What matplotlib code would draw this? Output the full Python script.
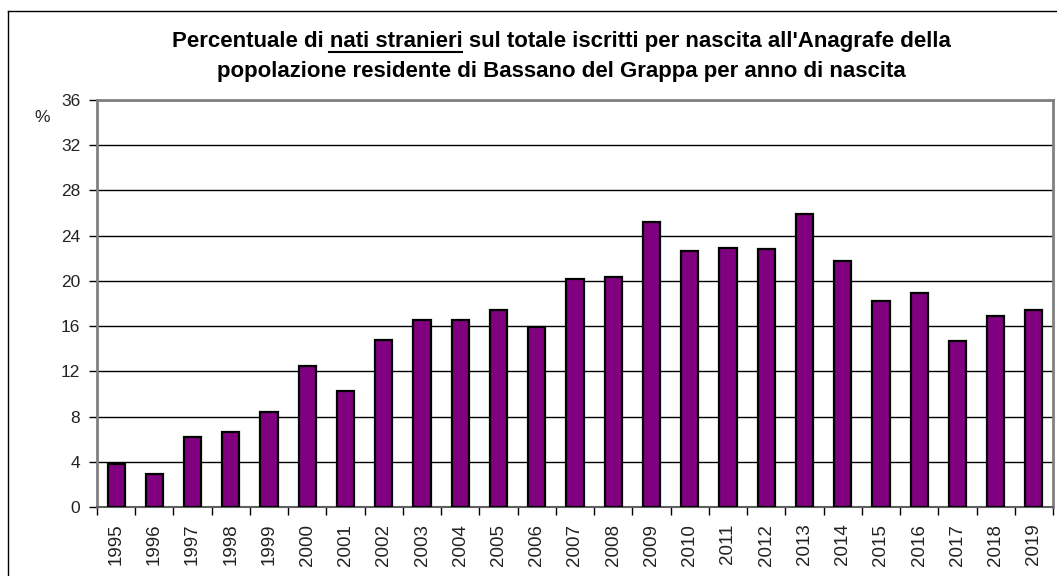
import matplotlib
matplotlib.use("Agg")
import matplotlib.pyplot as plt
from matplotlib.lines import Line2D
import numpy as np

plt.rcParams['font.family'] = ['Liberation Sans', 'DejaVu Sans']

# data
anni = ['1995', '1996', '1997', '1998', '1999', '2000', '2001', '2002', '2003',
        '2004', '2005', '2006', '2007', '2008', '2009', '2010', '2011', '2012',
        '2013', '2014', '2015', '2016', '2017', '2018', '2019']
perc_stranieri = [3.8, 2.9, 6.2, 6.6, 8.4, 12.5, 10.3, 14.8, 16.5,
                  16.5, 17.4, 15.9, 20.2, 20.3, 25.2, 22.6, 22.9, 22.8,
                  25.9, 21.8, 18.2, 18.9, 14.7, 16.9, 17.4]
yticks = [0, 4, 8, 12, 16, 20, 24, 28, 32, 36]

W, H = 1057, 576
TITLE_FS = 16
fig = plt.figure(figsize=(W / 100, H / 100), dpi=100)
ax = fig.add_axes([97 / W, 1 - 507 / H, (1053 - 97) / W, (507 - 100) / H])

x = np.arange(len(anni))
ax.bar(x, perc_stranieri, width=0.45, color='#800080', edgecolor='black',
       linewidth=1.6, zorder=3)

ax.set_xlim(-0.5, len(anni) - 0.5)
ax.set_ylim(0, 36)
ax.set_yticks(yticks)
ax.set_yticklabels([str(v) for v in yticks], fontsize=12.5, color='#222222')
ax.yaxis.grid(True, color='black', linewidth=1.0, zorder=0)
ax.set_axisbelow(True)

# category ticks between bars, labels in the middle
ax.set_xticks(np.arange(len(anni) + 1) - 0.5)
ax.set_xticklabels([])
ax.set_xticks(x, minor=True)
ax.set_xticklabels(anni, minor=True, rotation=90, fontsize=13.5, color='#222222')
ax.tick_params(axis='x', which='major', length=6, width=1, color='black', direction='out')
ax.tick_params(axis='x', which='minor', length=0, pad=12)
ax.tick_params(axis='y', length=6, width=1, color='black', direction='out', pad=6)

for s in ['left', 'top', 'right']:
    ax.spines[s].set_color('#808080')
    ax.spines[s].set_linewidth(2)
ax.spines['bottom'].set_color('#606060')
ax.spines['bottom'].set_linewidth(1.5)

fig.text(42 / W, 1 - 118 / H, '%', fontsize=12.5, color='#222222',
         ha='center', va='center')

# title, with "nati stranieri" underlined
title_kw = dict(fontsize=TITLE_FS, fontweight='bold', ha='center', va='center')
cx = 561 / W
riga1 = "Percentuale di nati stranieri sul totale iscritti per nascita all'Anagrafe della"
riga2 = "popolazione residente di Bassano del Grappa per anno di nascita"
t1 = fig.text(cx, 1 - 42 / H, riga1, **title_kw)
fig.text(cx, 1 - 71 / H, riga2, **title_kw)

fig.canvas.draw()
r = fig.canvas.get_renderer()
bb = t1.get_window_extent(renderer=r)


def larghezza(s):
    tmp = fig.text(0, 0, s, fontsize=TITLE_FS, fontweight='bold')
    w = tmp.get_window_extent(renderer=r).width
    tmp.remove()
    return w


fine = bb.x0 + larghezza("Percentuale di nati stranieri")
inizio = fine - larghezza("nati stranieri")
yline = bb.y0 + 1
fig.add_artist(Line2D([inizio / W, fine / W], [yline / H, yline / H],
                      color='black', linewidth=1.5))

# outer frame (left and top edges visible)
fig.add_artist(Line2D([8 / W, 8 / W], [0, 1 - 11 / H], color='black', linewidth=1))
fig.add_artist(Line2D([8 / W, 1], [1 - 11 / H, 1 - 11 / H], color='black', linewidth=1))

fig.savefig('out.png', dpi=100)
